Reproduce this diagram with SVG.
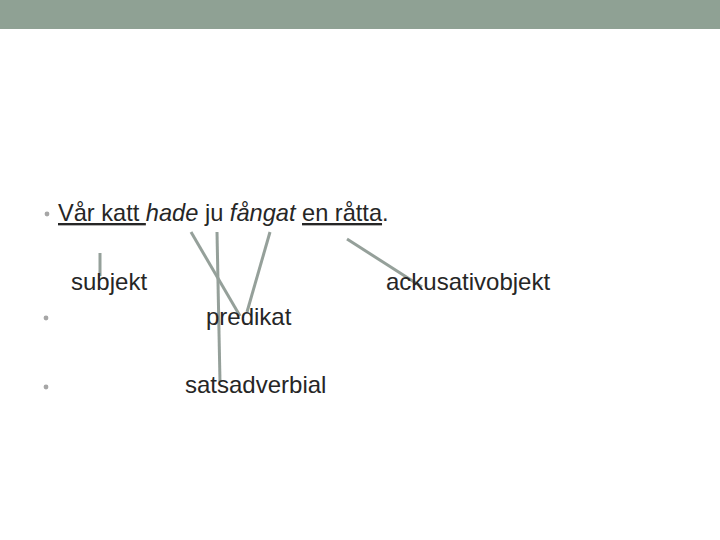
<svg xmlns="http://www.w3.org/2000/svg" width="720" height="540" viewBox="0 0 720 540">
<style>
.t{font-family:"Liberation Sans",Arial,sans-serif;font-size:24px;fill:#262626}
.s{font-size:23.6px}
.i{font-style:italic}
.u{text-decoration:underline}
.c{stroke:#95A09A;stroke-width:3;fill:none;stroke-linecap:butt}
.b{fill:#A6A6A6}
</style>
<rect x="0" y="0" width="720" height="29" fill="#8FA194"/>
<g id="sentence">
<circle class="b" cx="47" cy="214" r="2.4"/>
<text class="t s" x="58" y="221" xml:space="preserve"><tspan class="u">Vår katt </tspan><tspan class="i">hade</tspan> ju <tspan class="i">fångat</tspan> <tspan class="u">en råtta</tspan>.</text>
</g>
<g id="bullets">
<circle class="b" cx="46" cy="318" r="2.4"/>
<circle class="b" cx="46" cy="387" r="2.4"/>
</g>
<g id="connectors">
<line class="c" x1="100" y1="253" x2="100" y2="276"/>
<line class="c" x1="191" y1="232" x2="240" y2="316"/>
<line class="c" x1="217" y1="232" x2="220" y2="382"/>
<line class="c" x1="270" y1="232" x2="247" y2="312"/>
<line class="c" x1="347" y1="239" x2="422" y2="287"/>
</g>
<g id="subjekt"><text class="t" x="71" y="290">subjekt</text></g>
<g id="predikat"><text class="t" x="206" y="325">predikat</text></g>
<g id="satsadverbial"><text class="t" x="185" y="393">satsadverbial</text></g>
<g id="ackusativobjekt"><text class="t" x="386" y="290">ackusativobjekt</text></g>
</svg>
